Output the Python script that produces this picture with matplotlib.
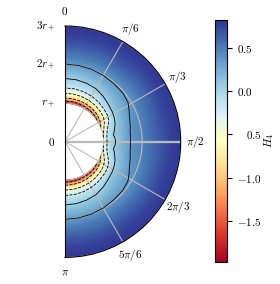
import matplotlib.pyplot as plt
import matplotlib.transforms as mtransforms
import numpy as np

plt.rcParams['font.family'] = 'serif'
plt.rcParams['font.serif'] = ['DejaVu Serif']
plt.rcParams['mathtext.fontset'] = 'cm'
plt.rcParams['font.size'] = 8

r = [1.0, 1.03, 1.06, 1.1, 1.15, 1.2, 1.3, 1.4, 1.5, 1.65, 1.8, 2.0, 2.2, 2.5, 2.75, 3.0]
theta_deg = [0, 10, 20, 30, 40, 50, 58, 64, 70, 76, 82, 86, 90]

# one radial profile per angle, northern half only (picture is mirror symmetric)
H = [
    [-1.97, -1.70, -1.45, -1.18, -0.90, -0.66, -0.38, -0.19, -0.07, 0.06, 0.18, 0.34, 0.48, 0.65, 0.76, 0.82],
    [-1.96, -1.69, -1.44, -1.17, -0.89, -0.65, -0.37, -0.185, -0.065, 0.065, 0.185, 0.345, 0.485, 0.65, 0.76, 0.82],
    [-1.93, -1.66, -1.41, -1.14, -0.87, -0.63, -0.35, -0.17, -0.05, 0.08, 0.19, 0.35, 0.49, 0.655, 0.76, 0.82],
    [-1.89, -1.62, -1.37, -1.10, -0.84, -0.61, -0.33, -0.14, -0.03, 0.10, 0.21, 0.36, 0.50, 0.66, 0.765, 0.82],
    [-1.80, -1.54, -1.30, -1.04, -0.79, -0.57, -0.29, -0.10, 0.02, 0.14, 0.24, 0.37, 0.50, 0.66, 0.765, 0.82],
    [-1.66, -1.41, -1.18, -0.94, -0.71, -0.51, -0.24, -0.03, 0.07, 0.18, 0.27, 0.37, 0.49, 0.65, 0.76, 0.82],
    [-1.45, -1.22, -1.01, -0.80, -0.60, -0.43, -0.19, 0.00, 0.10, 0.21, 0.30, 0.38, 0.49, 0.65, 0.76, 0.82],
    [-1.18, -0.98, -0.80, -0.62, -0.45, -0.32, -0.13, 0.03, 0.12, 0.24, 0.33, 0.41, 0.51, 0.66, 0.76, 0.82],
    [-0.90, -0.72, -0.56, -0.40, -0.27, -0.17, -0.04, 0.07, 0.16, 0.27, 0.36, 0.44, 0.53, 0.67, 0.77, 0.82],
    [-0.65, -0.50, -0.37, -0.25, -0.15, -0.07, 0.03, 0.11, 0.19, 0.30, 0.38, 0.46, 0.54, 0.67, 0.77, 0.82],
    [-0.52, -0.40, -0.29, -0.19, -0.11, -0.02, 0.08, 0.14, 0.21, 0.32, 0.40, 0.47, 0.55, 0.67, 0.77, 0.82],
    [-0.48, -0.37, -0.27, -0.18, -0.11, -0.05, 0.05, 0.14, 0.21, 0.32, 0.40, 0.47, 0.55, 0.67, 0.77, 0.82],
    [-0.45, -0.35, -0.26, -0.18, -0.11, -0.05, 0.04, 0.13, 0.21, 0.33, 0.40, 0.47, 0.55, 0.67, 0.77, 0.82],
]

levels = [-1.5, -1.0, -0.5, -0.2, 0.05, 0.35]
theta_labels = ['$0$', r'$\pi/6$', r'$\pi/3$', r'$\pi/2$', r'$2\pi/3$', r'$5\pi/6$', r'$\pi$']
r_ticks = [0, 1, 2, 3]
r_labels = ['$0$', '$r_+$', '$2r_+$', '$3r_+$']
cb_ticks = [-1.5, -1.0, -0.5, 0.0, 0.5]
cb_labels = [r'$-1.5$', r'$-1.0$', r'$0.5$', r'$0.0$', r'$0.5$']

# mirror the northern half onto the southern one
H = np.array(H)
th = np.array(theta_deg)
th_full = np.concatenate([th, 180 - th[-2::-1]])
H_full = np.concatenate([H, H[-2::-1]])
T, R = np.meshgrid(np.radians(th_full), r, indexing='ij')

fig = plt.figure(figsize=(2.8, 2.84), dpi=100)
ax = fig.add_axes([0.1, 0.1, 0.5, 0.8], projection='polar')
ax.set_theta_zero_location('N')
ax.set_theta_direction(-1)
ax.set_thetamin(0)
ax.set_thetamax(180)
ax.set_rlim(0, 3)

pc = ax.pcolormesh(T, R, H_full, shading='gouraud', cmap='RdYlBu',
                   vmin=H.min(), vmax=H.max())
ax.contour(T, R, H_full, levels=levels, colors='k', linewidths=0.6)

ax.set_thetagrids(np.arange(0, 181, 30), labels=theta_labels)
ax.set_rticks(r_ticks)
ax.set_yticklabels(r_labels)
ax.set_rlabel_position(0)
ax.tick_params(axis='x', pad=0)
ax.grid(color='#bbbbbb', linewidth=0.8)
ax.xaxis.get_gridlines()[3].set_linewidth(1.6)  # equator line looks heavier

# place the half disc: centre at (65, 142) px from bottom-left, outer radius 116 px
cx, cy, rad = 65.0, 142.3, 115.7
W, Hpx = fig.bbox.width, fig.bbox.height
for _ in range(3):
    fig.canvas.draw()
    c = ax.transData.transform((0, 0))
    top = ax.transData.transform((0, 3))
    s = rad / (top[1] - c[1])
    pos = ax.get_position(original=True)
    x0, y0 = pos.x0 * W, pos.y0 * Hpx
    fx, fy = c[0] - x0, c[1] - y0
    nw, nh = pos.width * W * s, pos.height * Hpx * s
    ax.set_position([(cx - fx * s) / W, (cy - fy * s) / Hpx, nw / W, nh / Hpx])

cax = fig.add_axes([0.768, 0.0785, 0.044, 0.851])
cb = fig.colorbar(pc, cax=cax)
cb.set_ticks(cb_ticks)
cb.set_ticklabels(cb_labels)
cb.set_label('$H_4$', labelpad=0)

# the middle label sits further right in the original
shift = mtransforms.ScaledTranslation(9 / 100, 0, fig.dpi_scale_trans)
lbl = cax.get_yticklabels()[2]
lbl.set_transform(lbl.get_transform() + shift)

fig.savefig('out.png', dpi=100)
